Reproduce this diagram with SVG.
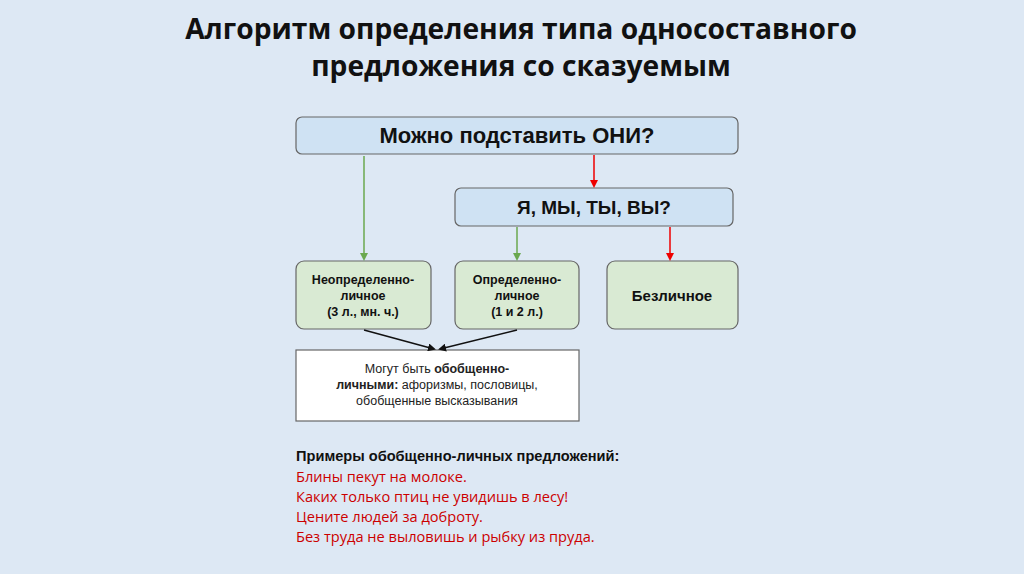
<svg xmlns="http://www.w3.org/2000/svg" width="1024" height="574" viewBox="0 0 1024 574">
<defs>
<style>
text{font-family:"Liberation Sans",Arial,sans-serif}
.t{font-size:28.2px;font-weight:bold;fill:#111;font-family:"Open Sans",sans-serif}
.q{fill:#cfe2f3;stroke:#666;stroke-width:1.2}
.g{fill:#d9ead3;stroke:#666;stroke-width:1.2}
.b{font-weight:bold;fill:#111;text-anchor:middle}
.ex{font-size:14.6px;fill:#c00;font-family:"Open Sans",sans-serif}
</style>
<marker id="ag" markerWidth="8" markerHeight="8" refX="6" refY="4" orient="auto" markerUnits="userSpaceOnUse"><path d="M0,0L8,4L0,8z" fill="#6aa84f"/></marker>
<marker id="ar" markerWidth="8" markerHeight="8" refX="6" refY="4" orient="auto" markerUnits="userSpaceOnUse"><path d="M0,0L8,4L0,8z" fill="#e00"/></marker>
<marker id="ak" markerWidth="8" markerHeight="8" refX="6" refY="4" orient="auto" markerUnits="userSpaceOnUse"><path d="M0,0L8,4L0,8z" fill="#111"/></marker>
</defs>
<rect width="1024" height="574" fill="#dde8f4"/>
<text class="t" x="521" y="39" text-anchor="middle">Алгоритм определения типа односоставного</text>
<text class="t" x="521" y="76" text-anchor="middle">предложения со сказуемым</text>
<g id="n1"><rect class="q" x="296" y="117" width="442" height="37" rx="6"/><text class="b" x="517" y="143" font-size="22">Можно подставить ОНИ?</text></g>
<g id="n2"><rect class="q" x="455" y="188" width="278" height="38" rx="6"/><text class="b" x="594" y="214" font-size="19">Я, МЫ, ТЫ, ВЫ?</text></g>
<g id="n3"><rect class="g" x="296" y="261" width="135" height="68" rx="8"/><text class="b" x="363" y="284" font-size="12.5">Неопределенно-</text><text class="b" x="363" y="300" font-size="12.5">личное</text><text class="b" x="363" y="316" font-size="12.5">(3 л., мн. ч.)</text></g>
<g id="n4"><rect class="g" x="455" y="261" width="124" height="68" rx="8"/><text class="b" x="517" y="284" font-size="12.5">Определенно-</text><text class="b" x="517" y="300" font-size="12.5">личное</text><text class="b" x="517" y="316" font-size="12.5">(1 и 2 л.)</text></g>
<g id="n5"><rect class="g" x="607" y="261" width="131" height="68" rx="8"/><text class="b" x="672" y="301" font-size="15">Безличное</text></g>
<g id="n6"><rect x="296" y="350" width="283" height="71" fill="#fff" stroke="#666" stroke-width="1.2"/>
<text x="437" y="373" font-size="12.5" fill="#222" text-anchor="middle">Могут быть <tspan font-weight="bold">обобщенно-</tspan></text>
<text x="437" y="389" font-size="12.5" fill="#222" text-anchor="middle"><tspan font-weight="bold">личными:</tspan> афоризмы, пословицы,</text>
<text x="437" y="405" font-size="12.5" fill="#222" text-anchor="middle">обобщенные высказывания</text></g>
<g id="connectors" fill="none" stroke-width="1.5">
<path d="M364 156V259" stroke="#6aa84f" marker-end="url(#ag)"/>
<path d="M517 227V259" stroke="#6aa84f" marker-end="url(#ag)"/>
<path d="M594 155V186" stroke="#e00" marker-end="url(#ar)"/>
<path d="M670 227V259" stroke="#e00" marker-end="url(#ar)"/>
<path d="M364 330L434 349" stroke="#111" marker-end="url(#ak)"/>
<path d="M517 330L440 349" stroke="#111" marker-end="url(#ak)"/>
</g>
<g id="examples">
<text x="296" y="461" font-size="14.6" font-weight="bold" fill="#111" font-family="Open Sans, sans-serif">Примеры обобщенно-личных предложений:</text>
<text class="ex" x="296" y="482">Блины пекут на молоке.</text>
<text class="ex" x="296" y="502">Каких только птиц не увидишь в лесу!</text>
<text class="ex" x="296" y="522">Цените людей за доброту.</text>
<text class="ex" x="296" y="542">Без труда не выловишь и рыбку из пруда.</text>
</g>
</svg>
